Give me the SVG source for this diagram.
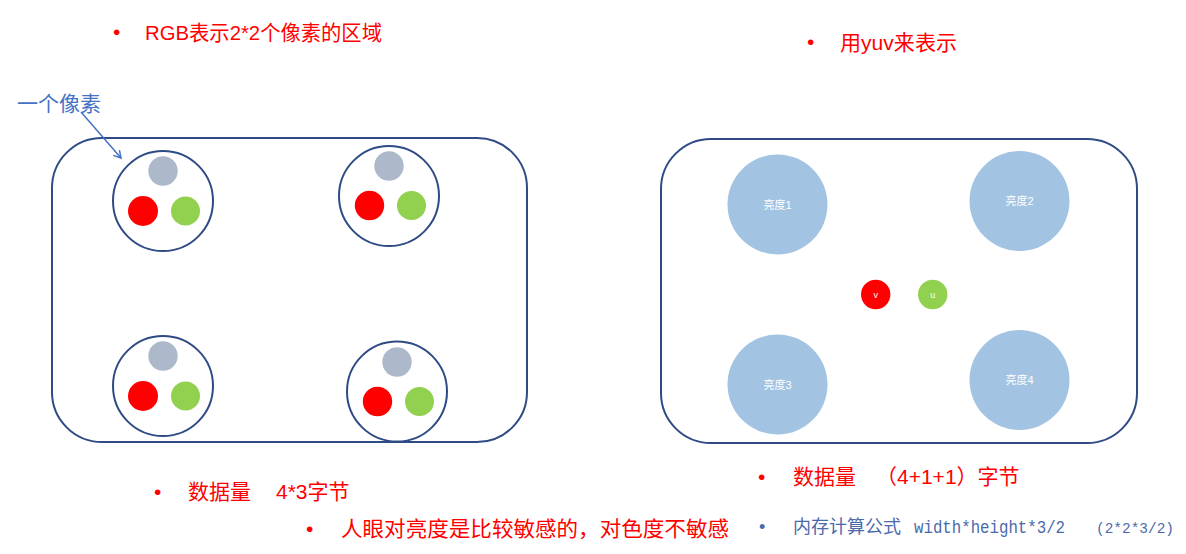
<svg xmlns="http://www.w3.org/2000/svg" width="1186" height="554" viewBox="0 0 1186 554">
<style>
.box{fill:#fff;stroke:#2F4B85;stroke-width:2}
.px{fill:#fff;stroke:#2F4B85;stroke-width:2}
.g{fill:#ADB9CA}
.r{fill:#FF0000}
.gr{fill:#92D050}
.y{fill:#A2C4E2}
.red{font-family:"Liberation Sans","Noto Sans CJK SC",sans-serif;font-size:21px;fill:#FF0000}
.lbl{font-family:"Liberation Sans","Noto Sans CJK SC",sans-serif;font-size:11px;fill:#fff;text-anchor:middle}
.blue{font-family:"Liberation Sans","Noto Sans CJK SC",sans-serif;font-size:21px;fill:#4472C4}
.memo{font-family:"Liberation Sans","Noto Sans CJK SC",sans-serif;font-size:18px;fill:#4A6AAA}
.mono{font-family:"Liberation Mono","Noto Sans CJK SC",monospace}
</style>
<defs>
<marker id="ah" markerWidth="10" markerHeight="10" refX="8" refY="5" orient="auto" markerUnits="userSpaceOnUse">
<path d="M1,1 L8,5 L1,9" fill="none" stroke="#4472C4" stroke-width="1.5"/>
</marker>
</defs>

<g id="titles">
<text class="red" x="113" y="39">•</text>
<text class="red" x="145" y="40" textLength="237" lengthAdjust="spacingAndGlyphs">RGB表示2*2个像素的区域</text>
<text class="red" x="807" y="49">•</text>
<text class="red" x="840" y="50" textLength="117" lengthAdjust="spacingAndGlyphs">用yuv来表示</text>
</g>

<g id="rgb-area">
<rect class="box" x="52" y="138" width="475" height="304" rx="50" ry="50"/>
</g>
<g id="pixel1">
<circle class="px" cx="163" cy="201" r="50"/>
<circle class="g" cx="163" cy="171" r="14.7"/>
<circle class="r" cx="143" cy="211" r="15"/>
<circle class="gr" cx="185.5" cy="211" r="14.5"/>
</g>
<g id="pixel2">
<circle class="px" cx="389" cy="196" r="50"/>
<circle class="g" cx="389" cy="166" r="14.7"/>
<circle class="r" cx="369.5" cy="205.5" r="14.7"/>
<circle class="gr" cx="411.5" cy="205.5" r="14.5"/>
</g>
<g id="pixel3">
<circle class="px" cx="163" cy="386" r="50"/>
<circle class="g" cx="163" cy="356" r="14.7"/>
<circle class="r" cx="143" cy="396" r="15"/>
<circle class="gr" cx="185.5" cy="396" r="14.5"/>
</g>
<g id="pixel4">
<circle class="px" cx="397" cy="391.5" r="50"/>
<circle class="g" cx="397" cy="362" r="14.7"/>
<circle class="r" cx="377.5" cy="401.5" r="14.7"/>
<circle class="gr" cx="419.5" cy="401.5" r="14.5"/>
</g>

<g id="pixel-label">
<text class="blue" x="17" y="111" textLength="84" lengthAdjust="spacingAndGlyphs">一个像素</text>
</g>

<g id="connectors">
<line x1="81" y1="112" x2="121" y2="158" stroke="#4472C4" stroke-width="1.5" marker-end="url(#ah)"/>
</g>

<g id="yuv-area">
<rect class="box" x="661" y="139" width="476" height="304" rx="50" ry="50"/>
</g>
<g id="y1">
<circle class="y" cx="777.5" cy="204.5" r="50"/>
<text class="lbl" x="777.5" y="209">亮度1</text>
</g>
<g id="y2">
<circle class="y" cx="1019.5" cy="201" r="50"/>
<text class="lbl" x="1019.5" y="205">亮度2</text>
</g>
<g id="y3">
<circle class="y" cx="777.5" cy="384.5" r="50"/>
<text class="lbl" x="777.5" y="389">亮度3</text>
</g>
<g id="y4">
<circle class="y" cx="1019.5" cy="380" r="50"/>
<text class="lbl" x="1019.5" y="384">亮度4</text>
</g>
<g id="v">
<circle class="r" cx="875.7" cy="294.5" r="14.7"/>
<text class="lbl" x="875.7" y="298" style="font-size:9px">v</text>
</g>
<g id="u">
<circle class="gr" cx="932.7" cy="294.5" r="14.7"/>
<text class="lbl" x="932.7" y="298" style="font-size:9px">u</text>
</g>

<g id="notes">
<text class="red" x="154" y="499">•</text>
<text class="red" x="188" y="499">数据量<tspan x="276">4*3字节</tspan></text>
<text class="red" x="306" y="536">•</text>
<text class="red" x="341" y="536" textLength="388" lengthAdjust="spacingAndGlyphs">人眼对亮度是比较敏感的，对色度不敏感</text>
<text class="red" x="758" y="484">•</text>
<text class="red" x="793" y="484">数据量<tspan x="876">（4+1+1）字节</tspan></text>
<text class="memo" x="759" y="533">•</text>
<text class="memo" x="793" y="533">内存计算公式</text>
<text class="memo mono" x="914" y="533" textLength="151" lengthAdjust="spacingAndGlyphs">width*height*3/2</text>
<text class="memo mono" x="1096" y="533" style="font-size:15.5px" textLength="78" lengthAdjust="spacingAndGlyphs">(2*2*3/2)</text>
</g>
</svg>
